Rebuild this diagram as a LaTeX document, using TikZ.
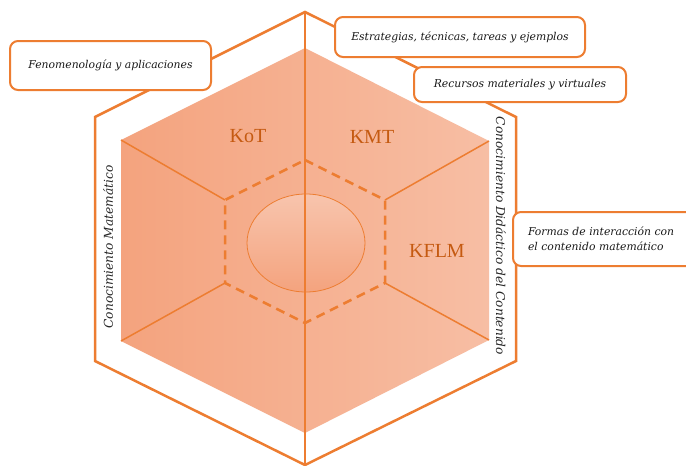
\documentclass[tikz,border=0pt]{standalone}
\usepackage{fontspec}
\setmainfont{Liberation Serif}
\newfontfamily\calloutfont{DejaVu Serif}
\pgfdeclarelayer{bg}
\pgfsetlayers{bg,main}
\definecolor{mkorange}{RGB}{237,125,49}
\definecolor{mkdark}{RGB}{197,90,17}
\definecolor{mkleft}{RGB}{244,163,126}
\definecolor{mkright}{RGB}{247,190,164}
\tikzset{
    callout/.style={draw=mkorange, line width=2pt, rounded corners=8pt, fill=white,
        font=\calloutfont\itshape\fontsize{10.8}{15}\selectfont, text=black!90, inner sep=0pt},
    sublabel/.style={font=\fontsize{20}{24}\selectfont, text=mkdark, inner sep=0pt},
    sidelabel/.style={font=\calloutfont\itshape\fontsize{12.2}{14}\selectfont, text=black!85, inner sep=0pt},
    cubeedge/.style={draw=mkorange, line width=1.5pt},
    dashedge/.style={draw=mkorange, line width=2.5pt, dash pattern=on 9pt off 6pt}
}

\begin{document}
\begin{tikzpicture}[x=1pt, y=-1pt]
        \useasboundingbox (0,0) rectangle (686,466);
        % outer hexagon
        \coordinate (o0) at (305,12);
        \coordinate (o1) at (516,117);
        \coordinate (o2) at (516,361);
        \coordinate (o3) at (305,465);
        \coordinate (o4) at (95,361);
        \coordinate (o5) at (95,117);
        % cube
        \coordinate (c0) at (305,48);
        \coordinate (c1) at (489,141);
        \coordinate (c2) at (489,340);
        \coordinate (c3) at (305,433);
        \coordinate (c4) at (121,341);
        \coordinate (c5) at (121,140);
        % inner (dashed) hexagon
        \coordinate (d0) at (305,160);
        \coordinate (d1) at (385,200);
        \coordinate (d2) at (385,283);
        \coordinate (d3) at (305,323);
        \coordinate (d4) at (225,283);
        \coordinate (d5) at (225,200);
        \begin{pgfonlayer}{bg}
                \draw[mkorange, line width=2.5pt, fill=white] (o0) -- (o1) -- (o2) -- (o3) -- (o4) -- (o5) -- cycle;
                \shade[left color=mkleft, right color=mkright] (c0) -- (c1) -- (c2) -- (c3) -- (c4) -- (c5) -- cycle;
                \shade[top color=mkright!90!white, bottom color=mkleft, draw=mkorange, line width=0.8pt]
                        (306,243) ellipse [x radius=59pt, y radius=49pt];
                \draw[mkorange, line width=1.2pt] (o0) -- (o3);
                \draw[cubeedge] (c5) -- (d5);
                \draw[cubeedge] (c4) -- (d4);
                \draw[cubeedge] (c1) -- (d1);
                \draw[cubeedge] (c2) -- (d2);
                \draw[dashedge] (d0) -- (d1) -- (d2) -- (d3) -- (d4) -- (d5) -- cycle;
        \end{pgfonlayer}
        \node (kot) [sublabel] at (248,136) {KoT};
        \node (kmt) [sublabel] at (372,137) {KMT};
        \node (kflm) [sublabel] at (437,251) {KFLM};
        \node (cm) [sidelabel, rotate=90] at (108,247) {Conocimiento Matemático};
        \node (cdc) [sidelabel, rotate=-90] at (501,236) {Conocimiento Didáctico del Contenido};
        \node (fen) [callout, minimum width=201pt, minimum height=49pt] at (110.5,65.5) {Fenomenología y aplicaciones};
        \node (est) [callout, minimum width=250pt, minimum height=40pt] at (460,37) {Estrategias, técnicas, tareas y ejemplos};
        \node (rec) [callout, minimum width=212pt, minimum height=35pt] at (520,84.5) {Recursos materiales y virtuales};
        \begin{scope}
                \clip (0,0) rectangle (686,466);
                \node (for) [callout, anchor=west, minimum height=54pt, text width=166pt, align=left,
                        inner xsep=15pt] at (512,239) {Formas de interacción con\\el contenido matemático};
        \end{scope}
\end{tikzpicture}
\end{document}
